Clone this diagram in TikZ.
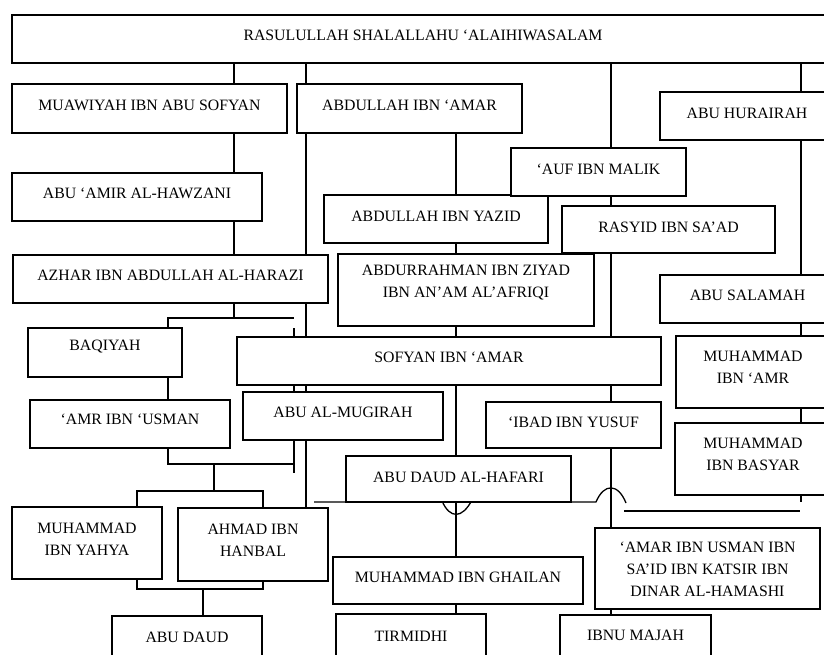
\documentclass[tikz,border=0pt]{standalone}
\usepackage{fontspec}
\setmainfont{Liberation Serif}
\usetikzlibrary{fit}
\pgfdeclarelayer{background}
\pgfsetlayers{background,main}
\tikzset{
  box/.style={draw, fill=white, line width=1.3pt, inner sep=0pt, rectangle},
  txt/.style={font=\fontsize{15.8pt}{21.8pt}\selectfont, align=center, inner sep=0pt},
  link/.style={line width=1.3pt},
}
\begin{document}
\begin{tikzpicture}[x=1pt,y=-1pt]
\useasboundingbox (0,0) rectangle (824,655);
\clip (0,0) rectangle (824,655);

% boxes of the chain of narrators
\node[box, fit={(12,15)(834,63)}, label={[txt,yshift=3.5pt]center:RASULULLAH SHALALLAHU ‘ALAIHIWASALAM}] (rasul) {};
\node[box, fit={(12,84)(287,133)}, label={[txt,yshift=3.5pt]center:MUAWIYAH IBN ABU SOFYAN}] (muawiyah) {};
\node[box, fit={(297,84)(522,133)}, label={[txt,yshift=3.5pt]center:ABDULLAH IBN ‘AMAR}] (abdamar) {};
\node[box, fit={(660,92)(834,140)}, label={[txt,yshift=2.5pt]center:ABU HURAIRAH}] (hurairah) {};
\node[box, fit={(324,195)(548,243)}, label={[txt,yshift=2.3pt]center:ABDULLAH IBN YAZID}] (yazid) {};
\node[box, fit={(511,148)(686,196)}, label={[txt,yshift=2.8pt]center:‘AUF IBN MALIK}] (auf) {};
\node[box, fit={(12,173)(262,221)}, label={[txt,yshift=3.5pt]center:ABU ‘AMIR AL-HAWZANI}] (abuamir) {};
\node[box, fit={(338,254)(594,326)}, label={[txt,yshift=7.2pt]center:ABDURRAHMAN IBN ZIYAD\\IBN AN’AM AL’AFRIQI}] (abdurrahman) {};
\node[box, fit={(562,206)(775,253)}, label={[txt,yshift=2.5pt]center:RASYID IBN SA’AD}] (rasyid) {};
\node[box, fit={(13,255)(328,303)}, label={[txt,yshift=3.5pt]center:AZHAR IBN ABDULLAH AL-HARAZI}] (azhar) {};
\node[box, fit={(660,275)(835,323)}, label={[txt,yshift=3.7pt]center:ABU SALAMAH}] (salamah) {};
\node[box, fit={(28,328)(182,377)}, label={[txt,yshift=5.7pt]center:BAQIYAH}] (baqiyah) {};
\node[box, fit={(676,336)(830,408)}, label={[txt,yshift=4.5pt]center:MUHAMMAD\\IBN ‘AMR}] (muhamr) {};
\node[box, fit={(237,337)(661,385)}, label={[txt,yshift=4pt]center:SOFYAN IBN ‘AMAR}] (sofyan) {};
\node[box, fit={(243,392)(443,440)}, label={[txt,yshift=4pt]center:ABU AL-MUGIRAH}] (mugirah) {};
\node[box, fit={(30,400)(230,448)}, label={[txt,yshift=4.5pt]center:‘AMR IBN ‘USMAN}] (amr) {};
\node[box, fit={(486,402)(661,448)}, label={[txt,yshift=2.5pt]center:‘IBAD IBN YUSUF}] (ibad) {};
\node[box, fit={(675,423)(831,495)}, label={[txt,yshift=4.8pt]center:MUHAMMAD\\IBN BASYAR}] (basyar) {};
\node[box, fit={(346,456)(571,502)}, label={[txt,yshift=1.6pt]center:ABU DAUD AL-HAFARI}] (hafari) {};
\node[box, fit={(12,507)(162,579)}, label={[txt,yshift=4pt]center:MUHAMMAD\\IBN YAHYA}] (yahya) {};
\node[box, fit={(178,508)(328,581)}, label={[txt,yshift=4.5pt]center:AHMAD IBN\\HANBAL}] (ahmad) {};
\node[box, fit={(595,528)(820,609)}, label={[txt,yshift=-1pt]center:‘AMAR IBN USMAN IBN\\SA’ID IBN KATSIR IBN\\DINAR AL-HAMASHI}] (amarusman) {};
\node[box, fit={(333,557)(583,604)}, label={[txt,yshift=3pt]center:MUHAMMAD IBN GHAILAN}] (ghailan) {};
\node[box, fit={(112,616)(262,664)}, label={[txt,yshift=3pt]center:ABU DAUD}] (abudaud) {};
\node[box, fit={(336,614)(486,662)}, label={[txt,yshift=1.3pt]center:TIRMIDHI}] (tirmidhi) {};
\node[box, fit={(560,615)(711,663)}, label={[txt,yshift=3.2pt]center:IBNU MAJAH}] (ibnumajah) {};

% free ends and junctions of the connectors
\coordinate (azharjoin) at (234,318);
\coordinate (baqsplit) at (168,318);
\coordinate (azharend) at (294,318);
\coordinate (sidetop) at (294,328);
\coordinate (sidebot) at (294,473);
\coordinate (amrend) at (294,464);
\coordinate (amrstem) at (214,464);
\coordinate (pairtop) at (214,491);
\coordinate (pairbot) at (203,589);
\coordinate (crossstart) at (314,502);
\coordinate (crossend) at (800,511);
\coordinate (basyarend) at (801,502);

\begin{pgfonlayer}{background}
% from the Prophet
\draw[link] (rasul.south -| 234,0) -- (muawiyah.north -| 234,0);
\draw[link] (rasul.south -| 306,0) -- (ahmad.north -| 306,0);
\draw[link] (rasul.south -| 611,0) -- (auf.north -| 611,0);
\draw[link] (rasul.south -| 801,0) -- (hurairah.north -| 801,0);

% left chain
\draw[link] (muawiyah.south -| 234,0) -- (abuamir.north -| 234,0);
\draw[link] (abuamir.south -| 234,0) -- (azhar.north -| 234,0);
\draw[link] (azhar.south -| 234,0) -- (azharjoin);
\draw[link] (baqiyah.north -| 168,0) -- (baqsplit) -- (azharend);
\draw[link] (sidetop) -- (sidebot);
\draw[link] (baqiyah.south -| 168,0) -- (amr.north -| 168,0);
\draw[link] (amr.south -| 168,0) |- (amrend);
\draw[link] (amrstem) -- (pairtop);
\draw[link] (yahya.north -| 137,0) -- (137,491) -- (263,491) -- (ahmad.north -| 263,0);
\draw[link] (yahya.south -| 137,0) -- (137,589) -- (263,589) -- (ahmad.south -| 263,0);
\draw[link] (pairbot) -- (abudaud.north -| 203,0);

% chain through Abdullah ibn 'Amar
\draw[link] (abdamar.south -| 456,0) -- (yazid.north -| 456,0);
\draw[link] (yazid.south -| 456,0) -- (abdurrahman.north -| 456,0);
\draw[link] (abdurrahman.south -| 456,0) -- (sofyan.north -| 456,0);
\draw[link] (sofyan.south -| 456,0) -- (hafari.north -| 456,0);
\draw[link] (hafari.south -| 456,0) -- (ghailan.north -| 456,0);
\draw[link] (ghailan.south -| 456,0) -- (tirmidhi.north -| 456,0);

% chain through 'Auf ibn Malik
\draw[link] (auf.south -| 611,0) -- (rasyid.north -| 611,0);
\draw[link] (rasyid.south -| 611,0) -- (sofyan.north -| 611,0);
\draw[link] (sofyan.south -| 611,0) -- (ibad.north -| 611,0);
\draw[link] (ibad.south -| 611,0) -- (amarusman.north -| 611,0);
\draw[link] (amarusman.south -| 611,0) -- (ibnumajah.north -| 611,0);

% chain through Abu Hurairah
\draw[link] (hurairah.south -| 801,0) -- (salamah.north -| 801,0);
\draw[link] (salamah.south -| 801,0) -- (muhamr.north -| 801,0);
\draw[link] (muhamr.south -| 801,0) -- (basyar.north -| 801,0);
\draw[link] (basyar.south -| 801,0) -- (basyarend);

% long cross line with its jumps
\draw[link] (crossstart) -- (442,502)
  (442,501) .. controls (450,519) and (462,519) .. (472,500)
  (472,502) -- (596,502) .. controls (604,483) and (618,483) .. (626,503);
\draw[link] (624,511) -- (crossend);
\end{pgfonlayer}
\end{tikzpicture}
\end{document}
